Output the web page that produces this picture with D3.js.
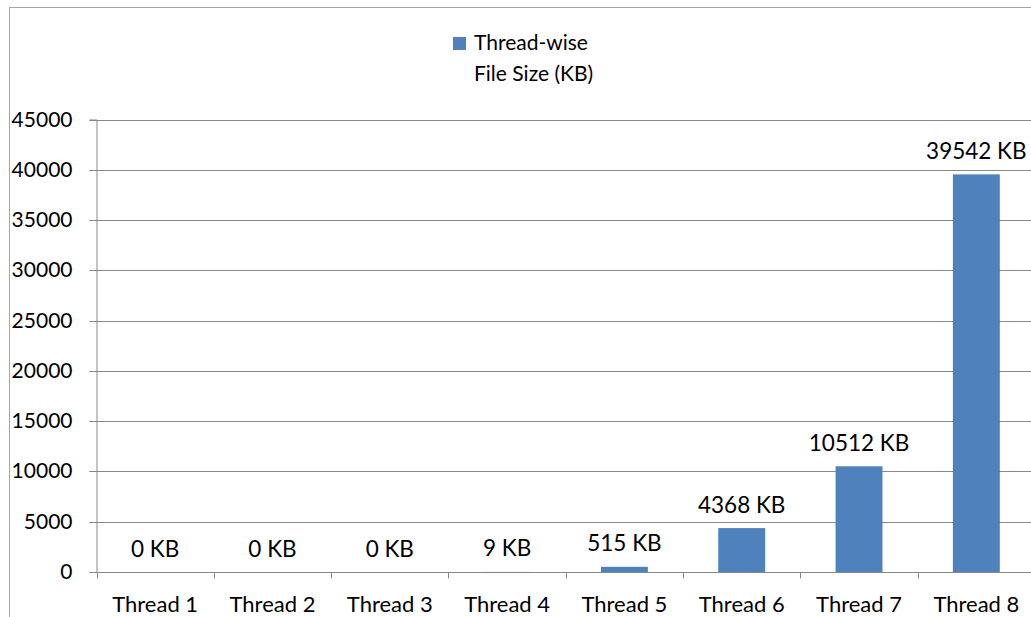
<!DOCTYPE html>
<html><head><meta charset="utf-8">
<script src="https://cdn.jsdelivr.net/npm/d3@7"></script>
<style>html,body{margin:0;padding:0;background:#fff;overflow:hidden}svg{display:block}text{font-family:Lato,"Open Sans",sans-serif;fill:#000}</style>
</head><body><svg id="c" width="1031" height="617"></svg>
<script>
const categories = ["Thread 1","Thread 2","Thread 3","Thread 4","Thread 5","Thread 6","Thread 7","Thread 8"];
const fileSizeKB = [0,0,0,9,515,4368,10512,39542];
const valueLabels = ["0 KB","0 KB","0 KB","9 KB","515 KB","4368 KB","10512 KB","39542 KB"];
const yTicks = [0,5000,10000,15000,20000,25000,30000,35000,40000,45000];
const legendLines = ["Thread-wise","File Size (KB)"];

const svg = d3.select("#c");
const mLeft = 96.5, mRight = 1035, mTop = 119.5, mBottom = 572;
const x = d3.scaleBand().domain(categories).range([mLeft, mRight]).paddingInner(0.6).paddingOuter(0.3);
const xb = d3.scaleBand().domain(categories).range([mLeft, mRight]);
const y = d3.scaleLinear().domain([0,45000]).range([mBottom, mTop]);
const grey = "#888";

// outer border
svg.append("rect").attr("x",9.5).attr("y",7.5).attr("width",1100).attr("height",700)
  .attr("fill","none").attr("stroke","#a6a6a6").attr("stroke-width",1);

// gridlines
svg.append("g").selectAll("line").data(yTicks.filter(d=>d>0)).join("line")
  .attr("x1",mLeft-7).attr("x2",mRight).attr("y1",d=>Math.round(y(d))+0.5).attr("y2",d=>Math.round(y(d))+0.5)
  .attr("stroke",grey).attr("stroke-width",1);

// y axis
const ya = svg.append("g").attr("transform",`translate(${mLeft},0)`)
  .call(d3.axisLeft(y).tickValues(yTicks).tickSize(7).tickPadding(17).tickFormat(d3.format("d")));
ya.selectAll("path,line").attr("stroke",grey);
ya.selectAll(".tick").attr("transform",d=>`translate(0,${Math.round(y(d))+0.5})`);
ya.selectAll("text").style("font-size","21px").style("font-family","Lato").attr("fill","#000");

// bars
svg.append("g").selectAll("rect").data(fileSizeKB).join("rect")
  .attr("x",(d,i)=>x(categories[i])).attr("width",x.bandwidth())
  .attr("y",d=>y(d)).attr("height",d=>mBottom-y(d)).attr("fill","#4F81BD");

// x axis
const xa = svg.append("g").attr("transform",`translate(0,${Math.round(mBottom)+0.5})`);
xa.append("line").attr("x1",mLeft).attr("x2",mRight).attr("stroke",grey);
xa.selectAll("line.t").data(d3.range(categories.length+1)).join("line").attr("class","t")
  .attr("x1",i=>Math.round(mLeft+i*xb.bandwidth())+0.5).attr("x2",i=>Math.round(mLeft+i*xb.bandwidth())+0.5)
  .attr("y1",0).attr("y2",6).attr("stroke",grey);
xa.selectAll("text").data(categories).join("text")
  .attr("x",d=>xb(d)+xb.bandwidth()/2).attr("y",39).attr("text-anchor","middle")
  .style("font-size","22px").text(d=>d);

// value labels
svg.append("g").selectAll("text").data(fileSizeKB).join("text")
  .attr("x",(d,i)=>xb(categories[i])+xb.bandwidth()/2).attr("y",d=>y(d)-15.5)
  .attr("text-anchor","middle").style("font-size","22.5px").text((d,i)=>valueLabels[i]);

// legend
const lg = svg.append("g");
lg.append("rect").attr("x",453).attr("y",37).attr("width",13).attr("height",13).attr("fill","#4F81BD");
lg.selectAll("text").data(legendLines).join("text")
  .attr("x",474).attr("y",(d,i)=>50+i*31).style("font-size","21px").text(d=>d);
</script></body></html>
